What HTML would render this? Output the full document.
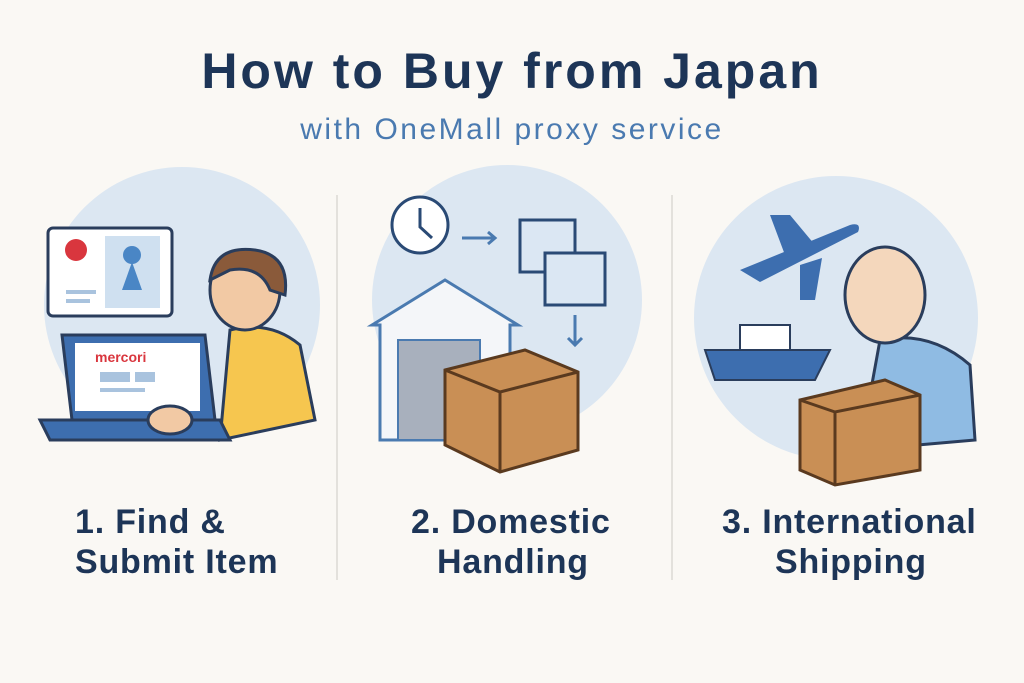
<!DOCTYPE html>
<html><head><meta charset="utf-8"><style>
html,body{margin:0;padding:0;background:#faf8f4;}
body{width:1024px;height:683px;overflow:hidden;position:relative;font-family:"Liberation Sans",sans-serif;}
.t{position:absolute;left:0;width:1024px;text-align:center;color:#1d3557;font-weight:bold;}
.l{position:absolute;color:#1d3557;font-weight:bold;font-size:34px;line-height:40px;letter-spacing:0.8px;white-space:nowrap;}
</style></head><body>
<svg width="1024" height="683" style="position:absolute;left:0;top:0">
<line x1="337" y1="195" x2="337" y2="580" stroke="#e3e1dc" stroke-width="2"/>
<line x1="672" y1="195" x2="672" y2="580" stroke="#e3e1dc" stroke-width="2"/>
<!-- panel1 -->
<circle cx="182" cy="305" r="138" fill="#dce7f2"/>
<path d="M40 420 L330 420 L330 470 L40 470Z" fill="#faf8f4"/>
<rect x="48" y="228" width="124" height="88" rx="5" fill="#fff" stroke="#2a3d5c" stroke-width="3"/>
<circle cx="76" cy="250" r="11" fill="#d9363e"/>
<rect x="105" y="236" width="55" height="72" fill="#cfe0f0"/>
<circle cx="132" cy="255" r="9" fill="#4a86c5"/>
<path d="M122 290 L132 262 L142 290Z" fill="#4a86c5"/>
<rect x="66" y="290" width="30" height="4" fill="#a9c3de"/><rect x="66" y="299" width="24" height="4" fill="#a9c3de"/>
<path d="M230 330 Q270 320 300 345 L315 420 L220 440 Z" fill="#f6c64f" stroke="#2a3d5c" stroke-width="3"/>
<ellipse cx="245" cy="290" rx="35" ry="40" fill="#f2c9a4" stroke="#2a3d5c" stroke-width="3"/>
<path d="M210 280 Q215 245 255 250 Q290 255 285 295 L270 290 Q260 265 230 270Z" fill="#8a5a3a" stroke="#2a3d5c" stroke-width="3"/>
<path d="M62 335 L205 335 L215 420 L72 420Z" fill="#3d6eaf" stroke="#2a3d5c" stroke-width="3"/>
<rect x="75" y="343" width="125" height="68" fill="#fff"/>
<text x="95" y="362" font-size="14" font-weight="bold" fill="#d9363e">mercori</text>
<rect x="100" y="372" width="30" height="10" fill="#a9c3de"/><rect x="135" y="372" width="20" height="10" fill="#a9c3de"/>
<rect x="100" y="388" width="45" height="4" fill="#a9c3de"/>
<path d="M40 420 L220 420 L230 440 L50 440Z" fill="#3d6eaf" stroke="#2a3d5c" stroke-width="3"/>
<ellipse cx="170" cy="420" rx="22" ry="14" fill="#f2c9a4" stroke="#2a3d5c" stroke-width="3"/>
<!-- panel2 -->
<circle cx="507" cy="300" r="135" fill="#dce7f2"/>
<circle cx="420" cy="225" r="28" fill="#fff" stroke="#2a4a75" stroke-width="3"/>
<path d="M420 208 L420 227 L432 238" stroke="#2a4a75" stroke-width="3" fill="none"/>
<path d="M462 238 L495 238 M488 232 L495 238 L488 244" stroke="#4a7ab0" stroke-width="3" fill="none"/>
<rect x="520" y="220" width="55" height="52" fill="#dbe7f3" stroke="#2a4a75" stroke-width="3"/>
<rect x="545" y="253" width="60" height="52" fill="#dbe7f3" stroke="#2a4a75" stroke-width="3"/>
<path d="M575 315 L575 345 M568 338 L575 345 L582 338" stroke="#4a7ab0" stroke-width="3" fill="none"/>
<path d="M372 325 L445 280 L518 325 L510 325 L510 440 L380 440 L380 325Z" fill="#f4f6f9" stroke="#4a7ab0" stroke-width="3"/>
<rect x="398" y="340" width="82" height="100" fill="#a8b0bd" stroke="#4a7ab0" stroke-width="2"/>
<path d="M445 370 L525 350 L578 372 L578 450 L500 472 L445 445Z" fill="#c98f55" stroke="#5a3a1f" stroke-width="3"/>
<path d="M445 370 L500 392 L578 372 M500 392 L500 472" stroke="#5a3a1f" stroke-width="3" fill="none"/>
<!-- panel3 -->
<circle cx="836" cy="318" r="142" fill="#dce7f2"/>
<path d="M740 270 L850 225 Q862 222 858 232 L760 282Z M785 255 L770 215 L790 215 L815 245 M800 265 L800 300 L815 300 L822 258" fill="#3d6eaf"/>
<path d="M705 350 L830 350 L815 380 L715 380Z" fill="#3d6eaf" stroke="#2a3d5c" stroke-width="2"/>
<rect x="740" y="325" width="50" height="25" fill="#fff" stroke="#2a3d5c" stroke-width="2"/>
<path d="M880 340 Q930 330 970 365 L975 440 L860 450Z" fill="#8fbbe3" stroke="#2a3d5c" stroke-width="3"/>
<ellipse cx="885" cy="295" rx="40" ry="48" fill="#f4d7bc" stroke="#2a3d5c" stroke-width="3"/>
<path d="M800 400 L885 380 L920 395 L920 470 L835 485 L800 470Z" fill="#c98f55" stroke="#5a3a1f" stroke-width="3"/>
<path d="M800 400 L835 412 L920 395 M835 412 L835 485" stroke="#5a3a1f" stroke-width="3" fill="none"/>
</svg>
<div class="t" style="top:42px;font-size:50px;letter-spacing:3px;">How to Buy from Japan</div>
<div class="t" style="top:113px;font-size:30px;font-weight:normal;color:#4a7ab0;letter-spacing:2.5px;">with OneMall proxy service</div>
<div class="l" style="left:75px;top:502px;">1. Find &amp;<br>Submit Item</div>
<div class="l" style="left:411px;top:502px;">2. Domestic<br><span style="padding-left:26px">Handling</span></div>
<div class="l" style="left:722px;top:502px;">3. International<br><span style="padding-left:53px">Shipping</span></div>
</body></html>
